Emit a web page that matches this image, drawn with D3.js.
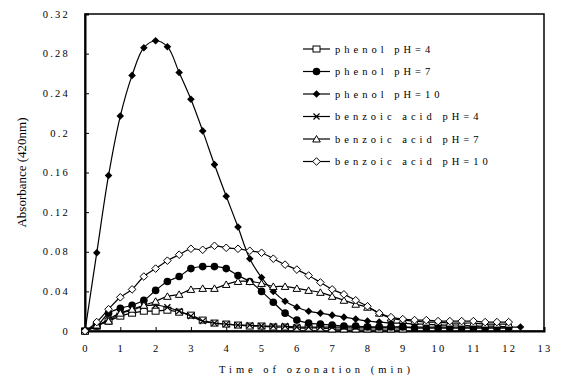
<!DOCTYPE html>
<html>
<head>
<meta charset="utf-8">
<script src="https://cdn.jsdelivr.net/npm/d3@7"></script>
<style>
  body { margin: 0; background: #fff; }
  text { font-family: "Liberation Serif", "Times New Roman", serif; fill: #000; }
</style>
</head>
<body>
<script>
// series names (legend order)
var seriesNames = ["phenol pH=4", "phenol pH=7", "phenol pH=10",
                   "benzoic acid pH=4", "benzoic acid pH=7", "benzoic acid pH=10"];

// sampling every 20 s -> index i is i/3 min
var phenol4 = [0, 0.005, 0.010, 0.015, 0.018, 0.020, 0.020, 0.021, 0.019, 0.016, 0.011, 0.008, 0.007, 0.006,
  0.005, 0.005, 0.004, 0.004, 0.003, 0.003, 0.003, 0.002, 0.002, 0.002, 0.002, 0.002, 0.002, 0.002];
var phenol7 = [0, 0.005, 0.018, 0.023, 0.026, 0.031, 0.041, 0.050, 0.055, 0.063, 0.065, 0.065, 0.063, 0.056,
  0.050, 0.040, 0.029, 0.018, 0.011, 0.008, 0.007, 0.006, 0.005, 0.005, 0.004, 0.004, 0.004, 0.004, 0.003,
  0.003, 0.003, 0.003, 0.003, 0.003, 0.003, 0.003, 0.003];
var phenol10 = [0, 0.079, 0.157, 0.217, 0.258, 0.286, 0.293, 0.287, 0.261, 0.234, 0.202, 0.168, 0.136, 0.105,
  0.073, 0.054, 0.040, 0.030, 0.024, 0.020, 0.018, 0.016, 0.014, 0.012, 0.010, 0.009, 0.008, 0.008, 0.007,
  0.007, 0.006, 0.006, 0.006, 0.005, 0.005, 0.005, 0.004, 0.004];
var benzoic4 = [0, 0.005, 0.012, 0.018, 0.021, 0.025, 0.026, 0.024, 0.020, 0.015, 0.010, 0.008, 0.007, 0.006,
  0.006, 0.005, 0.005, 0.005, 0.004, 0.004, 0.004, 0.004, 0.004, 0.004, 0.004, 0.004, 0.004, 0.004, 0.004,
  0.004, 0.004, 0.004, 0.004, 0.004, 0.004, 0.004, 0.004];
var benzoic7 = [0, 0.006, 0.010, 0.018, 0.022, 0.026, 0.030, 0.035, 0.037, 0.042, 0.043, 0.043, 0.047, 0.050,
  0.050, 0.048, 0.045, 0.045, 0.043, 0.041, 0.039, 0.035, 0.031, 0.027, 0.024, 0.018, 0.013, 0.011, 0.010,
  0.009, 0.009, 0.008, 0.008, 0.008, 0.007, 0.007, 0.007];
var benzoic10 = [0, 0.009, 0.022, 0.034, 0.042, 0.055, 0.063, 0.071, 0.077, 0.083, 0.082, 0.086, 0.084, 0.083,
  0.081, 0.079, 0.073, 0.067, 0.062, 0.056, 0.049, 0.042, 0.037, 0.031, 0.025, 0.018, 0.014, 0.012, 0.011,
  0.011, 0.010, 0.010, 0.010, 0.010, 0.009, 0.009, 0.009];

var xTicks = [0, 1, 2, 3, 4, 5, 6, 7, 8, 9, 10, 11, 12, 13];
var yTicks = [0, 0.04, 0.08, 0.12, 0.16, 0.2, 0.24, 0.28, 0.32];

var allSeries = [phenol4, phenol7, phenol10, benzoic4, benzoic7, benzoic10];
var markerKinds = ["square", "circle", "diamondFilled", "cross", "triangle", "diamondOpen"];

var width = 561, height = 379;
var margin = { top: 14, right: 17, bottom: 48, left: 85 };
var chartWidth = width - margin.left - margin.right,
    chartHeight = height - margin.top - margin.bottom;

var svg = d3.select("body").append("svg")
    .attr("width", width)
    .attr("height", height);

var g = svg.append("g").attr("transform", "translate(" + margin.left + "," + margin.top + ")");

var xScale = d3.scaleLinear().domain([0, 13]).range([0, chartWidth]);
var yScale = d3.scaleLinear().domain([0, 0.32]).range([chartHeight, 0]);

// frame
g.append("rect")
    .attr("x", 0).attr("y", 0)
    .attr("width", chartWidth).attr("height", chartHeight)
    .attr("fill", "none").attr("stroke", "#000").attr("stroke-width", 1.5);

// axes: ticks point inward
var yAxis = d3.axisRight(yScale).tickValues(yTicks).tickSize(4).tickFormat("");
var xAxis = d3.axisTop(xScale).tickValues(xTicks).tickSize(4).tickFormat("");

g.append("g").call(yAxis).call(function(a) {
  a.select(".domain").attr("stroke-width", 2);
  a.selectAll(".tick line").attr("stroke-width", 1);
});
g.append("g").attr("transform", "translate(0," + chartHeight + ")").call(xAxis).call(function(a) {
  a.select(".domain").attr("stroke-width", 2);
  a.selectAll(".tick line").attr("stroke-width", 1);
});

// tick labels
g.selectAll(".ylab").data(yTicks).enter().append("text")
    .attr("x", -15)
    .attr("y", function(d) { return yScale(d); })
    .attr("dy", "0.35em")
    .attr("text-anchor", "end")
    .style("font-size", "10.5px")
    .style("letter-spacing", "2.2px")
    .text(function(d) { return String(+d.toFixed(2)); });

g.selectAll(".xlab").data(xTicks).enter().append("text")
    .attr("x", function(d) { return xScale(d) + 1; })
    .attr("y", chartHeight + 21)
    .attr("text-anchor", "middle")
    .style("font-size", "10.5px")
    .style("letter-spacing", "2.2px")
    .text(function(d) { return d; });

// axis titles
svg.append("text")
    .attr("x", margin.left + chartWidth / 2 + 2)
    .attr("y", 373)
    .attr("text-anchor", "middle")
    .style("font-size", "10.5px")
    .style("letter-spacing", "4px")
    .text("Time of ozonation (min)");

svg.append("text")
    .attr("transform", "translate(21," + (margin.top + chartHeight / 2) + ") rotate(-90)")
    .attr("text-anchor", "middle")
    .attr("dy", "0.35em")
    .style("font-size", "13px")
    .text("Absorbance (420nm)");

// marker drawing
function drawMarker(sel, kind) {
  if (kind === "square") {
    sel.append("rect").attr("x", -3.5).attr("y", -3).attr("width", 7).attr("height", 6)
      .attr("fill", "#fff").attr("stroke", "#000").attr("stroke-width", 1);
  } else if (kind === "circle") {
    sel.append("circle").attr("r", 3.8).attr("fill", "#000");
  } else if (kind === "diamondFilled") {
    sel.append("path").attr("d", "M0,-3.8L3.8,0L0,3.8L-3.8,0Z").attr("fill", "#000");
  } else if (kind === "cross") {
    sel.append("path").attr("d", "M-3,-3L3,3M-3,3L3,-3")
      .attr("stroke", "#000").attr("stroke-width", 1.2).attr("fill", "none");
  } else if (kind === "triangle") {
    sel.append("path").attr("d", "M0,-3.5L3.8,3L-3.8,3Z")
      .attr("fill", "#fff").attr("stroke", "#000").attr("stroke-width", 1);
  } else if (kind === "diamondOpen") {
    sel.append("path").attr("d", "M0,-3.8L3.8,0L0,3.8L-3.8,0Z")
      .attr("fill", "#fff").attr("stroke", "#000").attr("stroke-width", 1);
  }
}

var line = d3.line()
    .x(function(d) { return xScale(d.t); })
    .y(function(d) { return yScale(d.v); })
    .curve(d3.curveCatmullRom.alpha(0.5));

allSeries.forEach(function(vals, k) {
  var pts = vals.map(function(v, i) { return { t: i / 3, v: v }; });
  g.append("path").datum(pts)
    .attr("d", line)
    .attr("fill", "none")
    .attr("stroke", "#000")
    .attr("stroke-width", 1.2);
  g.selectAll(".m" + k).data(pts).enter().append("g")
    .attr("transform", function(d) { return "translate(" + xScale(d.t) + "," + yScale(d.v) + ")"; })
    .each(function() { drawMarker(d3.select(this), markerKinds[k]); });
});

// legend
var legend = svg.append("g").attr("transform", "translate(303,49)");
seriesNames.forEach(function(name, k) {
  var row = legend.append("g").attr("transform", "translate(0," + (k * 22.5) + ")");
  row.append("line").attr("x1", 0).attr("x2", 27).attr("y1", 0).attr("y2", 0)
    .attr("stroke", "#000").attr("stroke-width", 1.2);
  drawMarker(row.append("g").attr("transform", "translate(13.5,0)"), markerKinds[k]);
  row.append("text")
    .attr("x", 32).attr("y", 0).attr("dy", "0.35em")
    .style("font-size", "10.5px")
    .style("letter-spacing", "4px")
    .text(name);
});
</script>
</body>
</html>
